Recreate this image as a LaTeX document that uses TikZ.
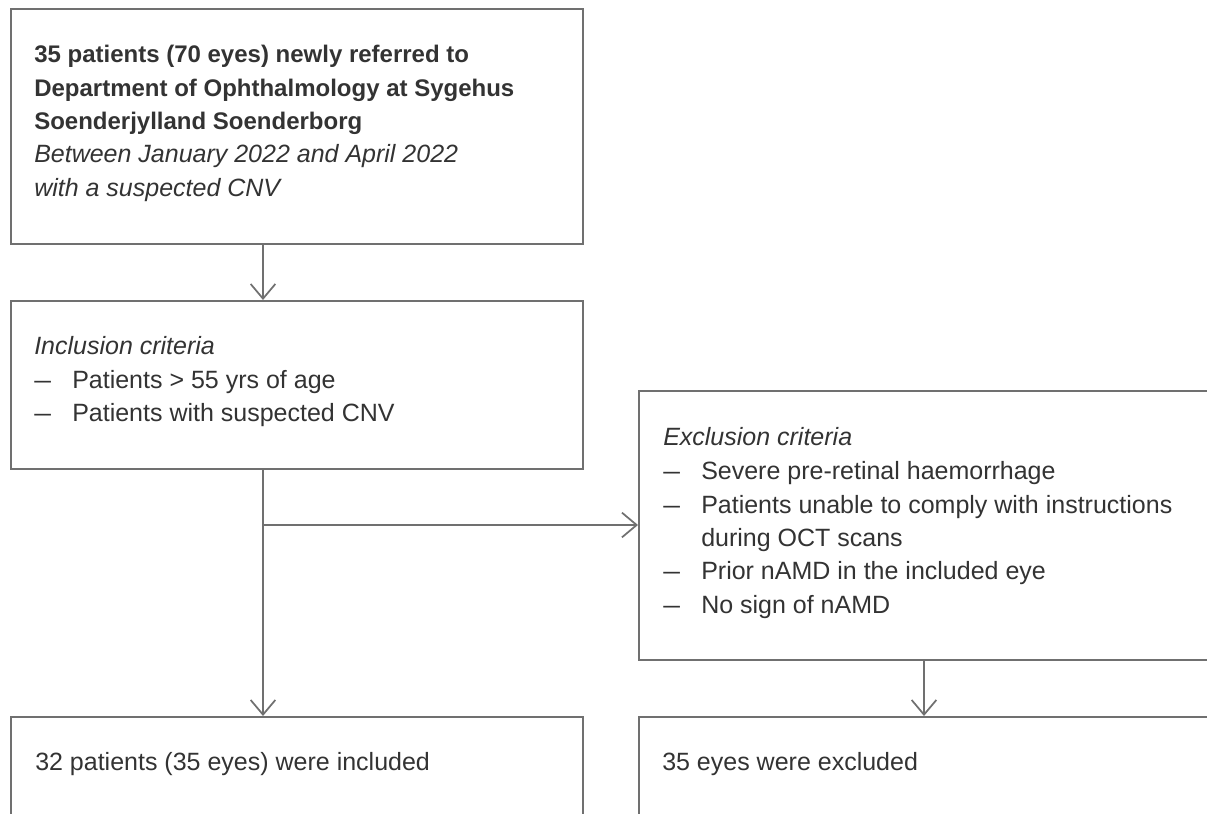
\documentclass[tikz,border=0pt]{standalone}
\usepackage{fontspec}
\setmainfont{Liberation Sans}
\usetikzlibrary{arrows.meta}
\definecolor{txtc}{HTML}{333333}
\definecolor{linec}{HTML}{707070}
\newcommand{\mydash}{\scalebox{1.2}[1]{–}}
\begin{document}
\begin{tikzpicture}[x=0.75pt,y=-0.75pt,
  boxnode/.style={draw=linec,line width=1.5pt,rectangle,inner sep=0pt,anchor=north west},
  txtline/.style={anchor=base west,inner sep=0pt,text=txtc,font=\fontsize{18.75pt}{25pt}\selectfont},
  boldline/.style={anchor=base west,inner sep=0pt,text=txtc,font=\fontsize{18pt}{25pt}\selectfont\bfseries},
  itline/.style={anchor=base west,inner sep=0pt,text=txtc,font=\fontsize{18.75pt}{25pt}\selectfont\itshape},
  arr/.style={draw=linec,line width=1.3pt,-{Straight Barb[length=11pt,width=18.5pt,line width=1.3pt]}}
]
\useasboundingbox (0,0) rectangle (1207,814);
\fill[white] (0,0) rectangle (1207,814);
\clip (0,0) rectangle (1207,814);

% boxes
\node[boxnode,minimum width=429pt,minimum height=176.25pt] (top) at (10,8) {};
\node[boxnode,minimum width=429pt,minimum height=126pt] (inc) at (10,300) {};
\node[boxnode,minimum width=451.5pt,minimum height=201.75pt] (exc) at (638,390) {};
\node[boxnode,minimum width=429pt,minimum height=100pt] (incl) at (10,716) {};
\node[boxnode,minimum width=451.5pt,minimum height=100pt] (excl) at (638,716) {};

% top box text
\node[boldline] (t1) at (34,62) {35 patients (70 eyes) newly referred to};
\node[boldline] (t2) at (34,96) {Department of Ophthalmology at Sygehus};
\node[boldline] (t3) at (34,129) {Soenderjylland Soenderborg};
\node[itline] (t4) at (34,162) {Between January 2022 and April 2022};
\node[itline] (t5) at (34,196) {with a suspected CNV};

% inclusion text
\node[itline] (i0) at (34,354) {Inclusion criteria};
\node[txtline] (id1) at (34,388) {\mydash};
\node[txtline] (i1) at (72,388) {Patients > 55 yrs of age};
\node[txtline] (id2) at (34,421) {\mydash};
\node[txtline] (i2) at (72,421) {Patients with suspected CNV};

% exclusion text
\node[itline] (e0) at (663,445) {Exclusion criteria};
\node[txtline] (ed1) at (663,479) {\mydash};
\node[txtline] (e1) at (701,479) {Severe pre-retinal haemorrhage};
\node[txtline] (ed2) at (663,513) {\mydash};
\node[txtline] (e2) at (701,513) {Patients unable to comply with instructions};
\node[txtline] (e2b) at (701,546) {during OCT scans};
\node[txtline] (ed3) at (663,579) {\mydash};
\node[txtline] (e3) at (701,579) {Prior nAMD in the included eye};
\node[txtline] (ed4) at (663,613) {\mydash};
\node[txtline] (e4) at (701,613) {No sign of nAMD};

% bottom texts
\node[txtline] (r1) at (35,770) {32 patients (35 eyes) were included};
\node[txtline] (r2) at (662,770) {35 eyes were excluded};

% connectors
\coordinate (jx) at (263,0);
\coordinate (kx) at (924,0);
\coordinate (split) at (263,525);
\draw[arr] (top.south -| jx) -- (inc.north -| jx);
\draw[arr] (inc.south -| jx) -- (incl.north -| jx);
\draw[arr] (split) -- (split -| exc.west);
\draw[arr] (exc.south -| kx) -- (excl.north -| kx);
\end{tikzpicture}
\end{document}
